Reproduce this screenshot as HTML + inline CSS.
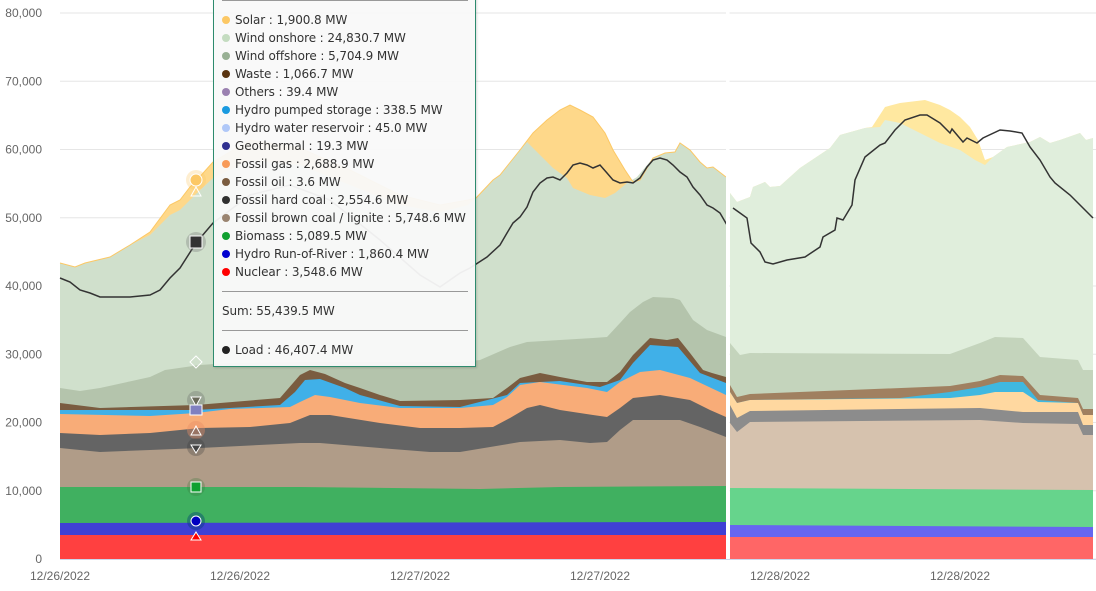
<!DOCTYPE html>
<html><head><meta charset="utf-8">
<style>
html,body{margin:0;padding:0;background:#fff;}
body{width:1096px;height:591px;overflow:hidden;position:relative;font-family:"Liberation Sans",sans-serif;}
svg{position:absolute;left:0;top:0;}
.tt{position:absolute;left:213px;top:-10px;width:261px;height:376px;background:rgba(249,249,249,0.95);border:1px solid #2e8b6e;border-top:none;box-shadow:1px 1px 2px rgba(0,0,0,0.15);}
.row{position:absolute;left:8px;font-size:12px;font-family:"DejaVu Sans",sans-serif;letter-spacing:-0.1px;color:#333;white-space:nowrap;line-height:14px;}
.dot{display:inline-block;width:8px;height:8px;border-radius:50%;margin-right:5px;vertical-align:0px;}
.sep{position:absolute;left:8px;width:246px;height:0;border-top:1px solid #999;}
</style></head><body>
<svg id="c" width="1096" height="591" xmlns="http://www.w3.org/2000/svg"></svg>
<div class="tt">
<div class="sep" style="top:10px"></div>
<div class="row" style="top:23px"><span class="dot" style="background:#fcc865"></span>Solar : 1,900.8 MW</div>
<div class="row" style="top:41px"><span class="dot" style="background:#c4dcc0"></span>Wind onshore : 24,830.7 MW</div>
<div class="row" style="top:59px"><span class="dot" style="background:#98b094"></span>Wind offshore : 5,704.9 MW</div>
<div class="row" style="top:77px"><span class="dot" style="background:#5a3410"></span>Waste : 1,066.7 MW</div>
<div class="row" style="top:95px"><span class="dot" style="background:#9a80b0"></span>Others : 39.4 MW</div>
<div class="row" style="top:113px"><span class="dot" style="background:#1a9ae0"></span>Hydro pumped storage : 338.5 MW</div>
<div class="row" style="top:131px"><span class="dot" style="background:#b0c8f8"></span>Hydro water reservoir : 45.0 MW</div>
<div class="row" style="top:149px"><span class="dot" style="background:#303090"></span>Geothermal : 19.3 MW</div>
<div class="row" style="top:167px"><span class="dot" style="background:#f89a58"></span>Fossil gas : 2,688.9 MW</div>
<div class="row" style="top:185px"><span class="dot" style="background:#7a5c40"></span>Fossil oil : 3.6 MW</div>
<div class="row" style="top:203px"><span class="dot" style="background:#303030"></span>Fossil hard coal : 2,554.6 MW</div>
<div class="row" style="top:221px"><span class="dot" style="background:#9a8470"></span>Fossil brown coal / lignite : 5,748.6 MW</div>
<div class="row" style="top:239px"><span class="dot" style="background:#10a030"></span>Biomass : 5,089.5 MW</div>
<div class="row" style="top:257px"><span class="dot" style="background:#0000d0"></span>Hydro Run-of-River : 1,860.4 MW</div>
<div class="row" style="top:275px"><span class="dot" style="background:#ff0000"></span>Nuclear : 3,548.6 MW</div>
<div class="sep" style="top:301px"></div>
<div class="row" style="top:314px">Sum: 55,439.5 MW</div>
<div class="sep" style="top:340px"></div>
<div class="row" style="top:353px"><span class="dot" style="background:#222"></span>Load : 46,407.4 MW</div>
</div>
<script>
var NS="http://www.w3.org/2000/svg",svg=document.getElementById('c');
function el(t,a){var e=document.createElementNS(NS,t);for(var k in a)e.setAttribute(k,a[k]);svg.appendChild(e);return e;}
for(var i=0;i<=8;i++){var y=559-i*68.25;el('line',{x1:60,x2:1096,y1:y,y2:y,stroke:'#e6e6e6','stroke-width':1});
var t=el('text',{x:42,y:y+4,'text-anchor':'end','font-size':12,fill:'#666','font-family':'Liberation Sans'});t.textContent=i==0?'0':(i*10)+',000';}
var xl=[[60,'12/26/2022'],[240,'12/26/2022'],[420,'12/27/2022'],[600,'12/27/2022'],[780,'12/28/2022'],[960,'12/28/2022']];
xl.forEach(function(p){var t=el('text',{x:p[0],y:580,'text-anchor':'middle','font-size':12,fill:'#666','font-family':'Liberation Sans'});t.textContent=p[1];});
function area(pts,col,base){var d='M'+pts[0][0]+','+base;pts.forEach(function(p){d+='L'+p[0]+','+p[1];});d+='L'+pts[pts.length-1][0]+','+base+'Z';el('path',{d:d,fill:col});}
function line(pts,col){var d='';pts.forEach(function(p,i){d+=(i?'L':'M')+p[0]+','+p[1];});el('path',{d:d,fill:'none',stroke:col,'stroke-width':1.5});}
var s1={
solar:[[60,263],[75,267],[85,263],[110,257],[130,245],[150,232],[170,205],[180,200],[190,187],[196,181],[213,162],[250,140],[300,148],[350,170],[400,195],[440,205],[468,200],[476,198],[493,180],[500,175],[520,150],[533,133],[547,120],[560,110],[570,105],[580,110],[593,117],[605,133],[613,150],[625,170],[633,182],[640,180],[653,158],[665,153],[675,152],[680,143],[690,150],[700,162],[707,168],[713,167],[726,177]],
on:[[60,263],[75,267],[85,263],[110,257],[130,245],[150,235],[170,215],[180,210],[196,194],[213,178],[250,160],[300,165],[350,185],[400,205],[440,212],[468,205],[476,198],[493,180],[500,175],[520,150],[527,142],[540,155],[553,168],[567,178],[573,188],[590,195],[605,198],[615,193],[627,183],[637,177],[653,158],[665,153],[675,152],[680,143],[690,150],[700,162],[707,168],[713,167],[726,177]],
off:[[60,388],[80,391],[100,388],[150,377],[165,370],[200,365],[230,363],[300,362],[460,362],[480,360],[510,347],[527,342],[560,340],[593,338],[607,337],[620,323],[630,312],[643,302],[653,297],[673,298],[680,300],[693,320],[707,330],[726,337]],
waste:[[60,403],[100,408],[196,405],[280,398],[300,375],[310,370],[325,374],[345,383],[360,388],[380,395],[400,401],[460,400],[493,398],[507,388],[520,378],[540,373],[560,377],[587,382],[607,382],[620,372],[633,355],[650,338],[667,340],[678,338],[690,353],[703,370],[712,373],[726,377]],
blue:[[60,410],[196,410],[280,405],[295,392],[305,380],[320,379],[345,388],[360,395],[400,406],[460,407],[507,395],[520,383],[560,381],[600,387],[620,380],[633,363],[650,345],[678,347],[700,373],[726,383]],
gas:[[60,414],[150,416],[196,413],[230,409],[290,407],[300,402],[315,395],[330,397],[360,403],[400,408],[460,408],[493,405],[507,397],[520,385],[540,382],[587,388],[607,392],[620,382],[640,372],[660,370],[690,378],[726,395]],
hard:[[60,433],[100,435],[150,433],[200,428],[250,427],[290,423],[310,415],[330,415],[380,423],[420,428],[460,428],[493,427],[510,418],[527,408],[540,405],[560,410],[593,415],[607,417],[620,408],[633,398],[660,395],[690,400],[710,410],[726,417]],
brown:[[60,448],[100,452],[150,450],[200,448],[300,443],[320,443],[380,448],[430,452],[460,452],[520,442],[560,440],[590,443],[607,442],[620,430],[633,420],[680,420],[700,427],[726,437]],
bio:[[60,487],[300,487],[480,489],[560,487],[726,486]],
ror:[[60,523],[726,522]],
nuc:[[60,535],[726,535]]};
var s2={
solar:[[730,193],[737,202],[750,197],[753,187],[765,182],[770,187],[780,186],[800,168],[830,148],[840,135],[865,128],[872,127],[885,107],[900,103],[925,100],[940,105],[950,110],[960,117],[970,127],[978,140],[985,160],[993,157],[1007,147],[1030,142],[1040,137],[1050,143],[1060,140],[1080,133],[1086,140],[1093,138]],
on:[[730,193],[737,202],[750,197],[753,187],[765,182],[770,187],[780,186],[800,168],[830,148],[840,135],[865,128],[880,127],[885,120],[900,123],[920,133],[940,143],[960,150],[975,160],[985,165],[993,157],[1007,147],[1030,142],[1040,137],[1050,143],[1060,140],[1080,133],[1086,140],[1093,138]],
off:[[730,343],[740,355],[750,353],[950,354],[980,343],[995,337],[1023,338],[1040,357],[1078,360],[1083,370],[1093,370]],
waste:[[730,385],[737,397],[750,394],[950,386],[980,381],[1000,375],[1023,376],[1040,395],[1078,398],[1083,409],[1093,409]],
blue:[[730,392],[737,403],[750,400],[900,398],[950,392],[980,387],[1000,382],[1023,382],[1038,400],[1078,403],[1083,415],[1093,415]],
gas:[[730,392],[737,403],[750,400],[950,398],[980,395],[995,392],[1023,392],[1038,402],[1078,403],[1083,415],[1093,415]],
hard:[[730,405],[737,418],[750,411],[980,408],[1023,412],[1078,412],[1083,425],[1093,425]],
brown:[[730,423],[737,432],[750,422],[980,420],[1023,423],[1078,424],[1083,435],[1093,435]],
bio:[[730,488],[1093,490]],
ror:[[730,525],[1093,527]],
nuc:[[730,537],[1093,537]]};
var c1={solar:'#fed88a',on:'#d0e0cc',off:'#b4c4ac',waste:'#7a5c40',blue:'#40b0e8',gas:'#f8ac78',hard:'#646464',brown:'#b09c88',bio:'#40b060',ror:'#4040d4',nuc:'#ff4040'};
var c2={solar:'#ffe8a0',on:'#e0eedc',off:'#c4d4bc',waste:'#a08060',blue:'#40b8e0',gas:'#ffd8a0',hard:'#8c8c8c',brown:'#d6c2ae',bio:'#66d48c',ror:'#6666f0',nuc:'#ff6666'};
var order=['solar','on','off','waste','blue','gas','hard','brown','bio','ror','nuc'];
order.forEach(function(k){area(s1[k],c1[k],559);});
order.forEach(function(k){area(s2[k],c2[k],559);});
el('path',{d:(function(){var d='';s1.solar.forEach(function(p,i){d+=(i?'L':'M')+p[0]+','+p[1];});return d;})(),fill:'none',stroke:'#fcc865','stroke-width':1});
line([[60,278],[70,282],[80,290],[90,293],[100,297],[130,297],[150,295],[160,290],[170,278],[180,268],[196,243],[213,223],[250,195],[290,185],[330,200],[380,240],[420,275],[440,287],[460,273],[470,268],[487,257],[500,245],[507,233],[513,223],[520,217],[527,207],[533,192],[540,183],[547,178],[553,177],[560,180],[567,173],[573,165],[580,163],[587,165],[593,168],[600,165],[607,173],[613,180],[620,183],[627,182],[633,183],[640,178],[647,167],[653,160],[660,158],[667,160],[673,165],[680,172],[687,177],[693,187],[700,195],[707,205],[713,208],[720,213],[727,225]],'#333');
line([[733,208],[740,213],[747,218],[751,243],[760,252],[765,262],[773,264],[787,260],[805,257],[820,247],[823,237],[835,230],[837,218],[843,220],[852,205],[855,180],[865,157],[880,145],[885,143],[895,130],[905,120],[920,115],[927,115],[940,123],[950,133],[952,129],[963,142],[967,138],[977,143],[983,138],[1000,130],[1010,131],[1022,133],[1030,147],[1040,160],[1050,177],[1055,183],[1070,195],[1083,208],[1093,218]],'#333');
el('rect',{x:726,y:10,width:3.5,height:549,fill:'#fff'});
el('line',{x1:60,x2:1096,y1:559.5,y2:559.5,stroke:'#ccd6eb','stroke-width':1});
el('circle',{cx:196,cy:180,r:10,fill:'rgba(252,200,101,0.3)'});el('circle',{cx:196,cy:180,r:6,fill:'#fcc865',stroke:'#fff','stroke-width':1});
el('path',{d:'M196,187L201,196L191,196Z',fill:'none',stroke:'#fff','stroke-width':1});
el('circle',{cx:196,cy:242,r:10,fill:'rgba(120,120,120,0.35)'});el('rect',{x:190,y:236,width:12,height:12,fill:'#333',stroke:'#fff','stroke-width':1});
el('path',{d:'M196,356L202,362L196,368L190,362Z',fill:'none',stroke:'#fff','stroke-width':1});
el('circle',{cx:196,cy:400,r:9,fill:'rgba(100,100,100,0.3)'});el('path',{d:'M191,397L201,397L196,406Z',fill:'#6a6a5a',stroke:'#fff','stroke-width':1});
el('rect',{x:190,y:405,width:12,height:10,fill:'#8080c0',stroke:'#fff','stroke-width':1});
el('circle',{cx:196,cy:430,r:9,fill:'rgba(230,140,100,0.4)'});el('path',{d:'M196,426L201,435L191,435Z',fill:'none',stroke:'#fff','stroke-width':1});
el('circle',{cx:196,cy:447,r:9,fill:'rgba(60,60,60,0.3)'});el('path',{d:'M191,445L201,445L196,453Z',fill:'#444',stroke:'#fff','stroke-width':1});
el('circle',{cx:196,cy:487,r:9,fill:'rgba(60,120,60,0.3)'});el('rect',{x:191,y:482,width:10,height:10,fill:'#10a030',stroke:'#fff','stroke-width':1});
el('circle',{cx:196,cy:521,r:9,fill:'rgba(0,60,120,0.4)'});el('circle',{cx:196,cy:521,r:5,fill:'#0000c0',stroke:'#fff','stroke-width':1});
el('path',{d:'M196,532L201,540L191,540Z',fill:'#ff0000',stroke:'#fff','stroke-width':1});
</script>
</body></html>
